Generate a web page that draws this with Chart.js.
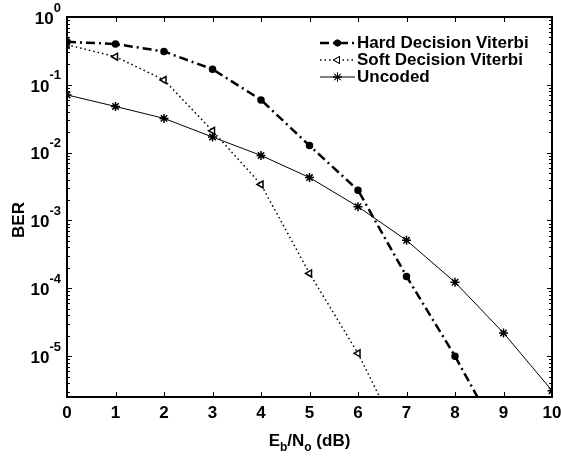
<!DOCTYPE html>
<html>
<head>
<meta charset="utf-8">
<script src="https://cdn.jsdelivr.net/npm/chart.js"></script>
<style>
  html, body { margin: 0; padding: 0; background: #fff; }
  #wrap { width: 561px; height: 457px; position: relative; }
</style>
</head>
<body>
<div id="wrap"><canvas id="c"></canvas></div>
<script>
// Eb/No in dB
const snrDb = [0, 1, 2, 3, 4, 5, 6, 7, 8, 9, 10];
// BER curves (last points of coded curves fall below the axis)
const hardBer = [0.43, 0.40, 0.31, 0.17, 0.060, 0.0127, 0.0028, 1.5e-4, 1.0e-5, 5e-7];
const softBer = [0.39, 0.26, 0.118, 0.021, 0.0034, 1.66e-4, 1.1e-5, 4e-7];
const uncodedBer = [0.071, 0.048, 0.032, 0.017, 0.0091, 0.0043, 0.0016, 5.1e-4, 1.23e-4, 2.2e-5, 3.1e-6];
const seriesNames = ["Hard Decision Viterbi", "Soft Decision Viterbi", "Uncoded"];
const yDecades = [0, -1, -2, -3, -4, -5];

const FONT = "'Liberation Sans', Arial, sans-serif";

function pts(vals) {
    return vals.map((v, i) => ({ x: snrDb[i], y: v }));
}

const styles = [
    { dash: [9, 4, 2, 4], width: 2.5, point: "circle", radius: 3, fill: "#000", rot: 0 },
    { dash: [1.5, 3], width: 1.5, point: "triangle", radius: 4, fill: "#fff", rot: -90 },
    { dash: [], width: 1, point: "star", radius: 4.5, fill: "#000", rot: 0 }
];

const allData = [hardBer, softBer, uncodedBer];

// frame, inward ticks, labels with super/subscripts, legend
const decor = {
    id: "decor",
    afterDraw(chart) {
        const ctx = chart.ctx;
        const a = chart.chartArea;
        const xs = chart.scales.x, ys = chart.scales.y;
        ctx.save();
        ctx.strokeStyle = "#000";
        ctx.fillStyle = "#000";

        // ticks
        ctx.lineWidth = 1;
        ctx.beginPath();
        snrDb.forEach(v => {
            const px = Math.round(xs.getPixelForValue(v)) + 0.5;
            ctx.moveTo(px, a.bottom); ctx.lineTo(px, a.bottom - 5);
            ctx.moveTo(px, a.top); ctx.lineTo(px, a.top + 5);
        });
        for (let d = -6; d <= 0; d++) {
            for (let m = 1; m <= 9; m++) {
                const v = m * Math.pow(10, d);
                if (v < ys.min || v > ys.max) continue;
                const py = Math.round(ys.getPixelForValue(v)) + 0.5;
                const len = m === 1 ? 5 : 3;
                ctx.moveTo(a.left, py); ctx.lineTo(a.left + len, py);
                ctx.moveTo(a.right, py); ctx.lineTo(a.right - len, py);
            }
        }
        ctx.stroke();

        // box
        ctx.lineWidth = 2;
        ctx.strokeRect(a.left, a.top, a.right - a.left, a.bottom - a.top);

        // x tick labels
        ctx.font = "bold 17px " + FONT;
        ctx.textAlign = "center";
        ctx.textBaseline = "top";
        snrDb.forEach(v => {
            ctx.fillText(String(v), xs.getPixelForValue(v), a.bottom + 8);
        });

        // y tick labels 10^n
        yDecades.forEach(d => {
            const py = ys.getPixelForValue(Math.pow(10, d));
            const exp = String(d);
            ctx.font = "bold 13px " + FONT;
            const ew = ctx.measureText(exp).width;
            ctx.textBaseline = "middle";
            ctx.textAlign = "left";
            ctx.fillText(exp, a.left - 6 - ew, py - 9);
            ctx.font = "bold 17px " + FONT;
            ctx.textAlign = "right";
            ctx.fillText("10", a.left - 6 - ew, py + 2);
        });

        // y axis title
        ctx.save();
        ctx.translate(19, 220);
        ctx.rotate(-Math.PI / 2);
        ctx.font = "bold 17px " + FONT;
        ctx.textAlign = "center";
        ctx.textBaseline = "middle";
        ctx.fillText("BER", 0, 0);
        ctx.restore();

        // x axis title E_b/N_o (dB)
        const parts = [["E", 0], ["b", 1], ["/N", 0], ["o", 1], [" (dB)", 0]];
        let total = 0;
        parts.forEach(p => {
            ctx.font = (p[1] ? "bold 12px " : "bold 17px ") + FONT;
            total += ctx.measureText(p[0]).width;
        });
        let cx = (a.left + a.right) / 2 - total / 2;
        ctx.textAlign = "left";
        ctx.textBaseline = "alphabetic";
        parts.forEach(p => {
            ctx.font = (p[1] ? "bold 12px " : "bold 17px ") + FONT;
            ctx.fillText(p[0], cx, p[1] ? 451 : 446);
            cx += ctx.measureText(p[0]).width;
        });

        // legend
        ctx.font = "bold 17px " + FONT;
        ctx.textBaseline = "middle";
        seriesNames.forEach((name, i) => {
            const y = 43 + i * 17;
            const s = styles[i];
            ctx.lineWidth = s.width;
            ctx.setLineDash(s.dash);
            ctx.beginPath();
            ctx.moveTo(320, y); ctx.lineTo(355, y);
            ctx.stroke();
            ctx.setLineDash([]);
            ctx.lineWidth = 1;
            Chart.helpers.drawPoint(ctx, {
                pointStyle: s.point, radius: s.radius, rotation: s.rot, borderWidth: 1.5
            }, 337.5, y);
            ctx.fillStyle = s.fill;
            ctx.fill();
            ctx.stroke();
            ctx.fillStyle = "#000";
            ctx.fillText(name, 357, y);
        });
        ctx.restore();
    }
};

new Chart(document.getElementById("c"), {
    type: "line",
    data: {
        datasets: allData.map((vals, i) => ({
            label: seriesNames[i],
            data: pts(vals),
            borderColor: "#000",
            borderWidth: styles[i].width,
            borderDash: styles[i].dash,
            pointStyle: styles[i].point,
            pointRadius: styles[i].radius,
            pointRotation: styles[i].rot,
            pointBackgroundColor: styles[i].fill,
            pointBorderColor: "#000",
            pointBorderWidth: 1.5,
            tension: 0,
            fill: false
        }))
    },
    options: {
        responsive: true,
        maintainAspectRatio: false,
        animation: false,
        layout: { padding: { left: 67, top: 17, right: 9, bottom: 60 } },
        plugins: { legend: { display: false }, tooltip: { enabled: false } },
        scales: {
            x: {
                type: "linear", min: 0, max: 10,
                ticks: { display: false },
                grid: { display: false, drawTicks: false },
                border: { display: false }
            },
            y: {
                type: "logarithmic", min: 2.5e-6, max: 1,
                ticks: { display: false },
                grid: { display: false, drawTicks: false },
                border: { display: false }
            }
        }
    },
    plugins: [decor]
});
</script>
</body>
</html>
